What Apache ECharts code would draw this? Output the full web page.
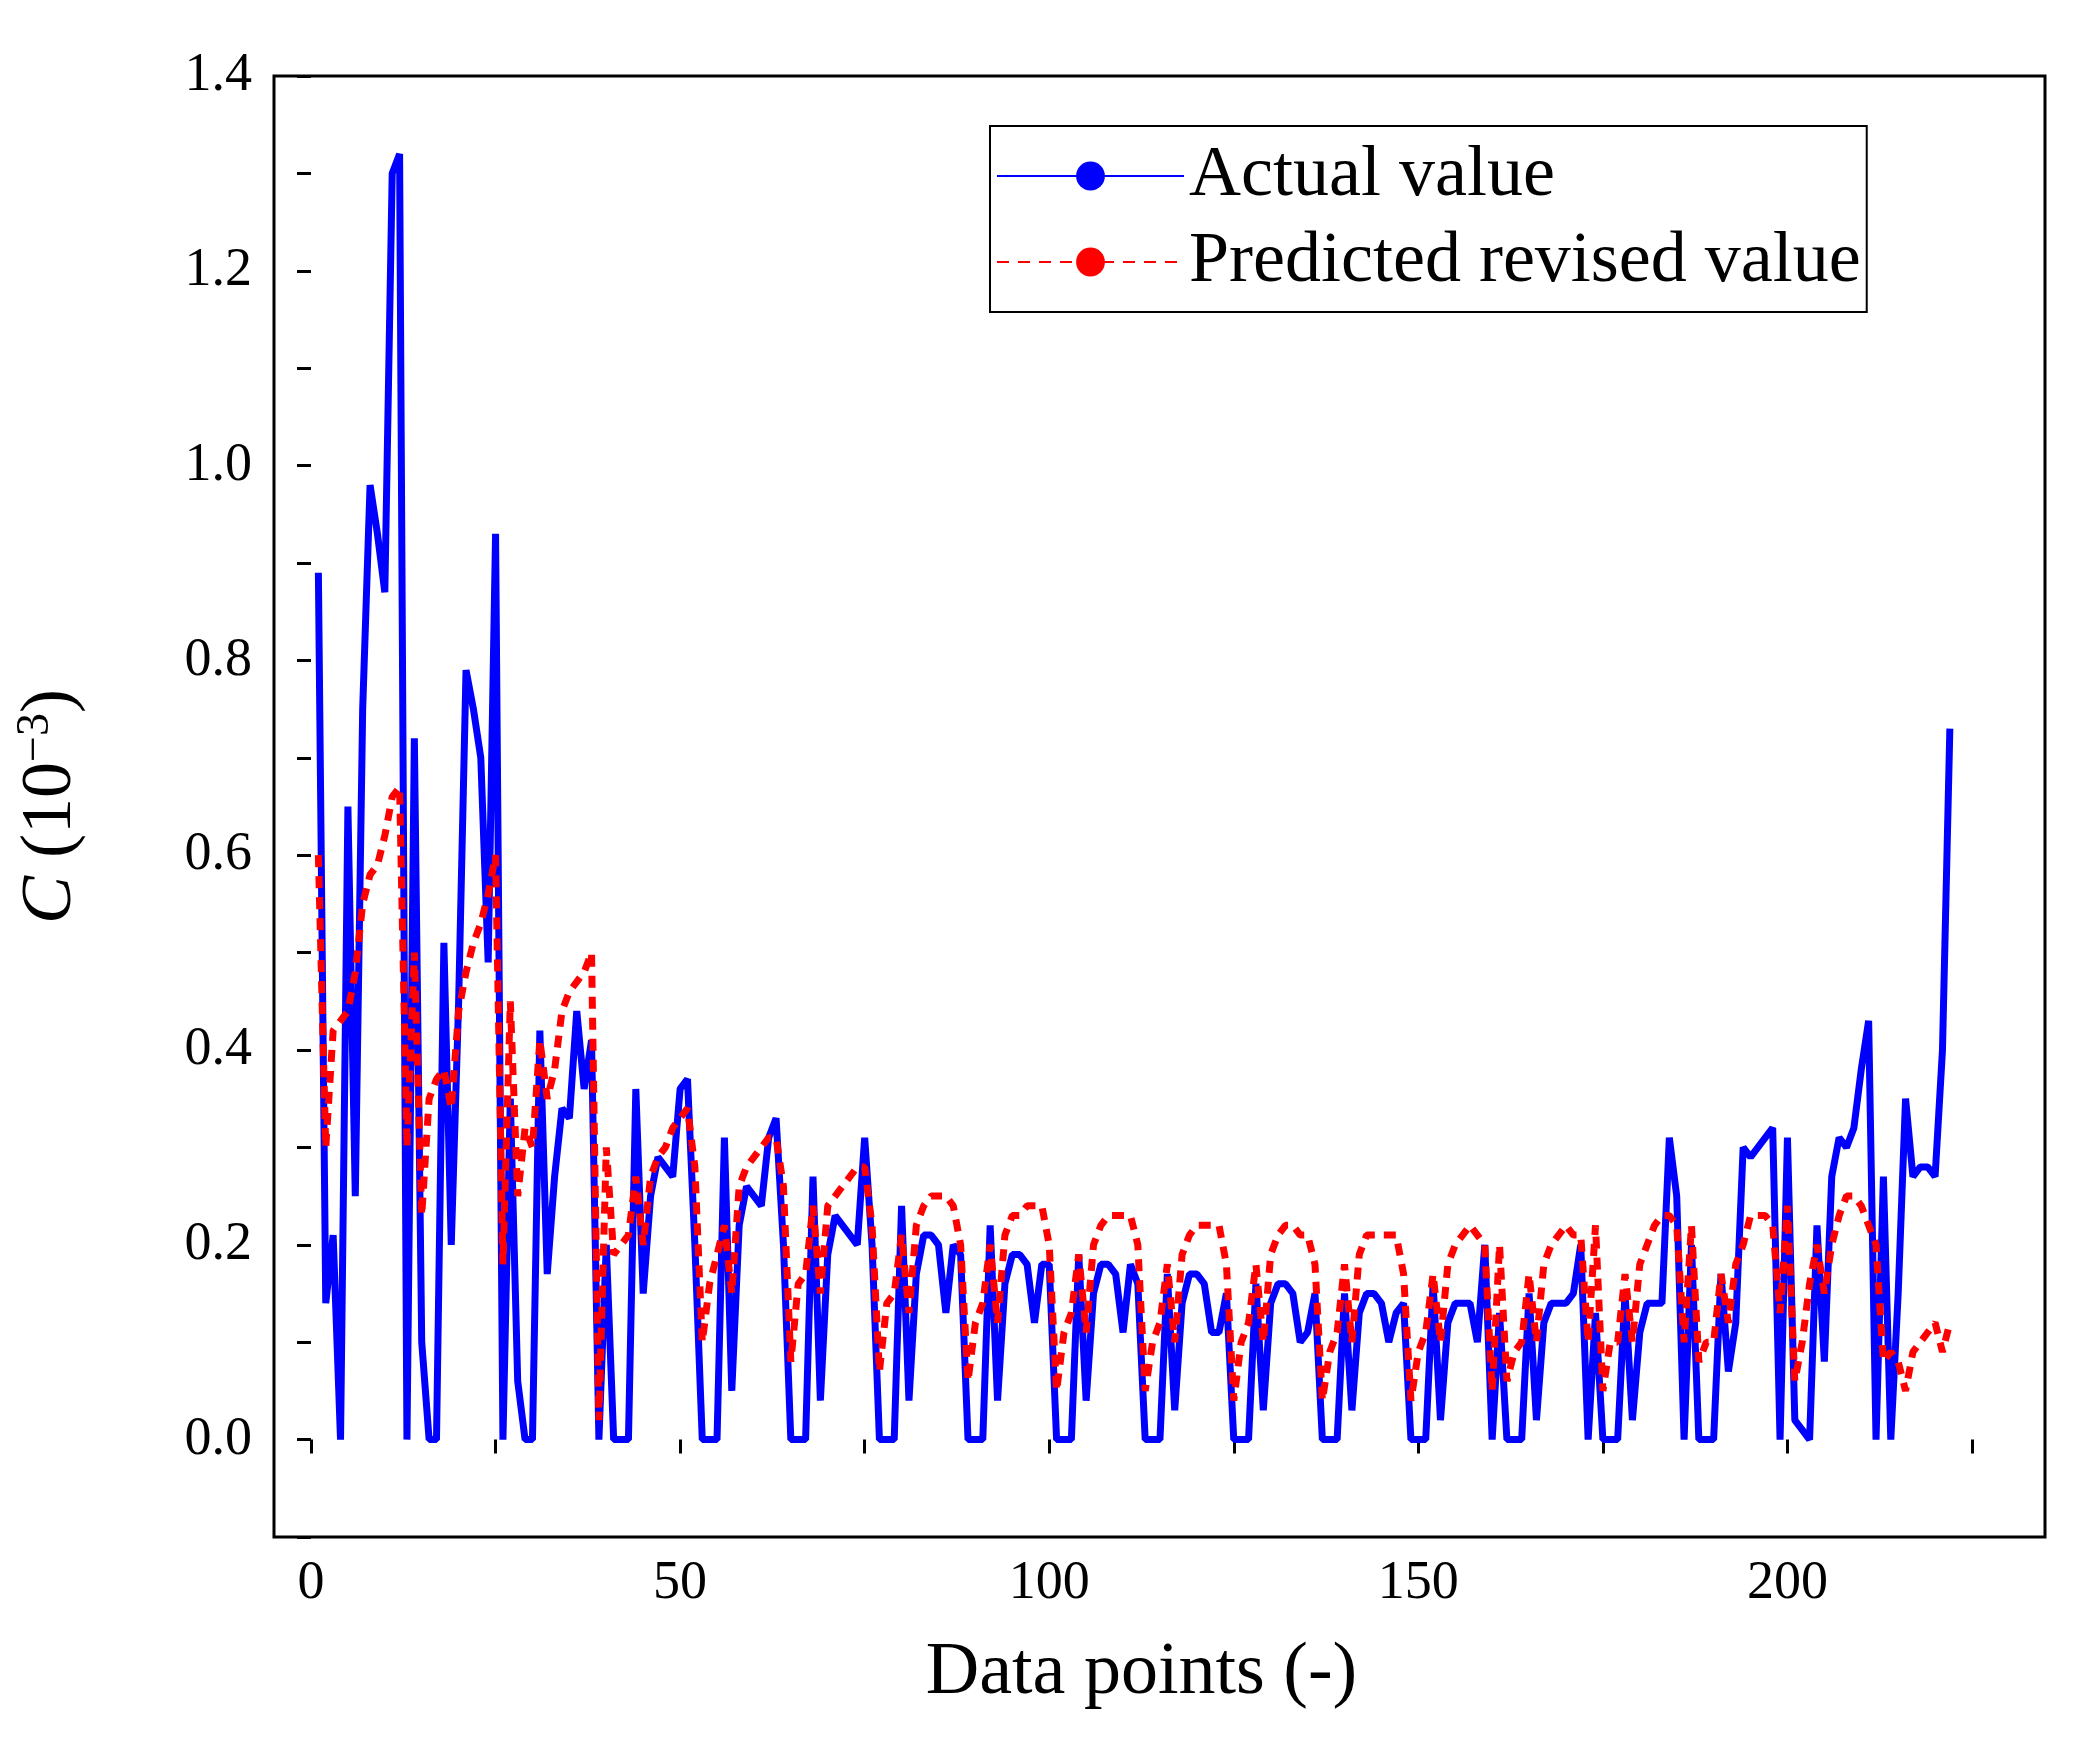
<!DOCTYPE html>
<html>
<head>
<meta charset="utf-8">
<script src="https://cdn.jsdelivr.net/npm/echarts@6/dist/echarts.min.js"></script>
<style>html,body{margin:0;padding:0;background:#fff}#main{width:2085px;height:1754px}</style>
</head>
<body>
<div id="main"></div>
<script>
var actualValues = [
    0.89, 0.14, 0.21, 0.00, 0.65, 0.25, 0.75, 0.98, 0.93, 0.87,
    1.30, 1.32, 0.00, 0.72, 0.10, 0.00, 0.00, 0.51, 0.20, 0.45,
    0.79, 0.75, 0.70, 0.49, 0.93, 0.00, 0.35, 0.06, 0.00, 0.00,
    0.42, 0.17, 0.27, 0.34, 0.33, 0.44, 0.36, 0.41, 0.00, 0.20,
    0.00, 0.00, 0.00, 0.36, 0.15, 0.25, 0.29, 0.28, 0.27, 0.36,
    0.37, 0.20, 0.00, 0.00, 0.00, 0.31, 0.05, 0.22, 0.26, 0.25,
    0.24, 0.31, 0.33, 0.20, 0.00, 0.00, 0.00, 0.27, 0.04, 0.19,
    0.23, 0.22, 0.21, 0.20, 0.31, 0.20, 0.00, 0.00, 0.00, 0.24,
    0.04, 0.17, 0.21, 0.21, 0.20, 0.13, 0.20, 0.19, 0.00, 0.00,
    0.00, 0.22, 0.04, 0.16, 0.19, 0.19, 0.18, 0.12, 0.18, 0.18,
    0.00, 0.00, 0.00, 0.19, 0.04, 0.15, 0.18, 0.18, 0.17, 0.11,
    0.18, 0.16, 0.00, 0.00, 0.00, 0.17, 0.03, 0.14, 0.17, 0.17,
    0.16, 0.11, 0.11, 0.15, 0.00, 0.00, 0.00, 0.16, 0.03, 0.14,
    0.16, 0.16, 0.15, 0.10, 0.11, 0.15, 0.00, 0.00, 0.00, 0.15,
    0.03, 0.13, 0.15, 0.15, 0.14, 0.10, 0.13, 0.14, 0.00, 0.00,
    0.00, 0.16, 0.02, 0.12, 0.14, 0.14, 0.14, 0.10, 0.20, 0.00,
    0.13, 0.00, 0.00, 0.00, 0.15, 0.02, 0.12, 0.14, 0.14, 0.14,
    0.15, 0.20, 0.00, 0.13, 0.00, 0.00, 0.00, 0.15, 0.02, 0.11,
    0.14, 0.14, 0.14, 0.31, 0.25, 0.00, 0.20, 0.00, 0.00, 0.00,
    0.17, 0.07, 0.12, 0.30, 0.29, 0.30, 0.31, 0.32, 0.00, 0.31,
    0.02, 0.01, 0.00, 0.22, 0.08, 0.27, 0.31, 0.30, 0.32, 0.38,
    0.43, 0.00, 0.27, 0.00, 0.15, 0.35, 0.27, 0.28, 0.28, 0.27,
    0.40, 0.73
];
var predictedValues = [
    0.60, 0.30, 0.42, 0.43, 0.44, 0.48, 0.55, 0.58, 0.59, 0.62,
    0.66, 0.67, 0.30, 0.50, 0.23, 0.35, 0.37, 0.38, 0.34, 0.44,
    0.48, 0.51, 0.53, 0.56, 0.60, 0.18, 0.45, 0.25, 0.32, 0.30,
    0.41, 0.35, 0.38, 0.44, 0.46, 0.47, 0.48, 0.50, 0.02, 0.30,
    0.19, 0.20, 0.21, 0.27, 0.20, 0.27, 0.29, 0.30, 0.32, 0.33,
    0.34, 0.28, 0.10, 0.16, 0.19, 0.22, 0.15, 0.26, 0.28, 0.29,
    0.30, 0.31, 0.31, 0.26, 0.08, 0.16, 0.17, 0.24, 0.15, 0.24,
    0.25, 0.26, 0.27, 0.28, 0.28, 0.22, 0.07, 0.14, 0.15, 0.21,
    0.13, 0.22, 0.24, 0.25, 0.25, 0.25, 0.24, 0.20, 0.06, 0.12,
    0.14, 0.20, 0.12, 0.21, 0.23, 0.23, 0.24, 0.24, 0.24, 0.20,
    0.05, 0.11, 0.13, 0.19, 0.11, 0.20, 0.22, 0.23, 0.23, 0.23,
    0.23, 0.20, 0.05, 0.10, 0.12, 0.18, 0.10, 0.19, 0.21, 0.22,
    0.22, 0.22, 0.22, 0.18, 0.04, 0.10, 0.12, 0.18, 0.10, 0.19,
    0.21, 0.22, 0.22, 0.21, 0.21, 0.18, 0.04, 0.09, 0.11, 0.18,
    0.10, 0.19, 0.21, 0.21, 0.21, 0.21, 0.21, 0.17, 0.04, 0.09,
    0.11, 0.17, 0.10, 0.18, 0.20, 0.21, 0.22, 0.21, 0.20, 0.05,
    0.20, 0.06, 0.09, 0.10, 0.17, 0.10, 0.18, 0.20, 0.21, 0.22,
    0.21, 0.21, 0.10, 0.22, 0.05, 0.10, 0.10, 0.17, 0.10, 0.18,
    0.20, 0.22, 0.23, 0.23, 0.22, 0.10, 0.22, 0.08, 0.10, 0.10,
    0.17, 0.12, 0.18, 0.20, 0.23, 0.23, 0.23, 0.22, 0.13, 0.24,
    0.06, 0.10, 0.16, 0.20, 0.15, 0.20, 0.23, 0.25, 0.25, 0.24,
    0.22, 0.20, 0.08, 0.09, 0.08, 0.05, 0.09, 0.10, 0.11, 0.12,
    0.09, 0.12
];

var chart = echarts.init(document.getElementById('main'));
var font = 'Liberation Serif';

var actualData = actualValues.map(function (v, i) { return [i + 1, v]; });
var predictedData = predictedValues.map(function (v, i) { return [i + 1, v]; });

var option = {
    backgroundColor: '#fff',
    animation: false,
    textStyle: { fontFamily: font, color: '#000' },
    grid: [
        { left: 311, right: 113, top: 76, bottom: 217 },
        { left: 274, right: 40, top: 76, bottom: 217, show: true, borderColor: '#000', borderWidth: 3, backgroundColor: 'transparent' }
    ],
    legend: {
        orient: 'vertical',
        left: 990,
        top: 126,
        width: 977,
        padding: [14, 6, 14, 6],
        itemGap: 14,
        itemWidth: 187,
        itemHeight: 36,
        borderColor: '#000',
        borderWidth: 2,
        textStyle: { fontFamily: font, fontSize: 72, color: '#000' },
        data: ['Actual value', 'Predicted revised value']
    },
    xAxis: [{
        gridIndex: 0,
        type: 'value',
        min: 0,
        max: 225,
        interval: 25,
        name: 'Data points (-)',
        nameLocation: 'middle',
        nameGap: 100,
        nameTextStyle: { fontFamily: font, fontSize: 74, color: '#000' },
        axisLine: { show: false },
        axisTick: { show: true, inside: false, length: 14, lineStyle: { color: '#000', width: 3 } },
        axisLabel: {
            fontFamily: font, fontSize: 54, color: '#000', margin: 20,
            formatter: function (v) { return (v % 50 === 0 && v <= 200) ? String(v) : ''; }
        },
        splitLine: { show: false }
    }, {
        gridIndex: 1, type: 'value', min: 0, max: 1, show: false
    }],
    yAxis: [{
        gridIndex: 0,
        type: 'value',
        min: -0.1,
        max: 1.4,
        interval: 0.1,
        offset: 37,
        name: '{i|C} (10{s|−3})',
        nameLocation: 'middle',
        nameRotate: 90,
        nameGap: 185,
        nameTextStyle: {
            fontFamily: font, fontSize: 72, color: '#000',
            rich: {
                i: { fontFamily: font, fontSize: 72, fontStyle: 'italic' },
                s: { fontFamily: font, fontSize: 46, padding: [0, 0, 30, 0] }
            }
        },
        axisLine: { show: false },
        axisTick: { show: true, inside: false, length: 14, lineStyle: { color: '#000', width: 3 } },
        axisLabel: {
            fontFamily: font, fontSize: 54, color: '#000', margin: 22,
            formatter: function (v) {
                var k = Math.round(v * 10);
                return (k >= 0 && k % 2 === 0) ? (k / 10).toFixed(1) : '';
            }
        },
        splitLine: { show: false }
    }, {
        gridIndex: 1, type: 'value', min: 0, max: 1, show: false
    }],
    series: [{
        name: 'Actual value',
        type: 'line',
        xAxisIndex: 0,
        yAxisIndex: 0,
        data: actualData,
        symbol: 'none',
        lineStyle: { color: '#0000ff', width: 7 },
        itemStyle: { color: '#0000ff' }
    }, {
        name: 'Predicted revised value',
        type: 'line',
        xAxisIndex: 0,
        yAxisIndex: 0,
        data: predictedData,
        symbol: 'none',
        lineStyle: { color: '#ff0000', width: 7, type: [12, 9] },
        itemStyle: { color: '#ff0000' }
    }]
};
chart.setOption(option);
</script>
</body>
</html>
